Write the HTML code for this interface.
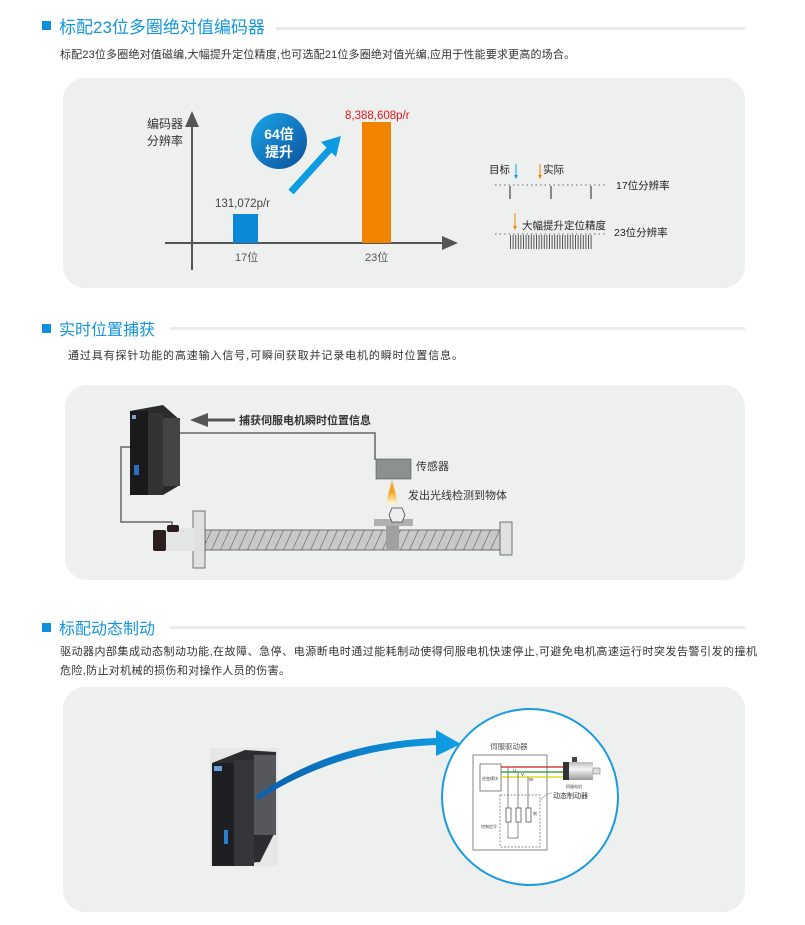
<!DOCTYPE html>
<html><head><meta charset="utf-8"><style>
html,body{margin:0;padding:0;background:#fff;width:805px;height:925px;overflow:hidden}
svg{display:block}
text{font-family:"Liberation Sans","Noto Sans CJK SC",sans-serif}
</style></head><body>
<svg width="805" height="925" viewBox="0 0 805 925" xmlns="http://www.w3.org/2000/svg">
<defs>
<linearGradient id="cg" x1="0" y1="0" x2="1" y2="1"><stop offset="0" stop-color="#1ba6e8"/><stop offset="1" stop-color="#0b4f9c"/></linearGradient>
<linearGradient id="fl" x1="0" y1="1" x2="0" y2="0"><stop offset="0" stop-color="#fff3d0"/><stop offset="0.5" stop-color="#f7a21b"/><stop offset="1" stop-color="#f07d00" stop-opacity="0.6"/></linearGradient>
<linearGradient id="ba" x1="0" y1="0" x2="1" y2="0"><stop offset="0" stop-color="#0b5fae"/><stop offset="1" stop-color="#0da0e6"/></linearGradient>
<linearGradient id="mt" x1="0" y1="0" x2="0" y2="1"><stop offset="0" stop-color="#bbb"/><stop offset="0.4" stop-color="#f6f6f6"/><stop offset="1" stop-color="#999"/></linearGradient>
<pattern id="hatch" width="9" height="20" patternUnits="userSpaceOnUse"><rect width="9" height="20" fill="#c9c9c9"/><line x1="9" y1="0" x2="0" y2="20" stroke="#777" stroke-width="0.8"/></pattern>
</defs>

<!-- Section 1 -->
<rect x="42" y="21" width="9" height="9" fill="#0d8fdb"/>
<text x="59" y="33" font-size="17" fill="#1596dc">标配23位多圈绝对值编码器</text>
<rect x="276" y="27" width="469" height="3" fill="#ebebeb"/>
<text x="60" y="58" font-size="11" fill="#333" textLength="515">标配23位多圈绝对值磁编,大幅提升定位精度,也可选配21位多圈绝对值光编,应用于性能要求更高的场合。</text>
<rect x="63" y="78" width="682" height="210" rx="22" fill="#eef0f0"/>

<text x="147" y="128" font-size="12" fill="#333">编码器</text>
<text x="147" y="145" font-size="12" fill="#333">分辨率</text>
<line x1="192" y1="270" x2="192" y2="125" stroke="#555" stroke-width="2"/>
<polygon points="185,127 192,111 199,127" fill="#555"/>
<line x1="165" y1="243" x2="445" y2="243" stroke="#555" stroke-width="2"/>
<polygon points="442,236 458,243 442,250" fill="#555"/>
<rect x="233" y="214" width="25" height="29" fill="#0a8ad6"/>
<rect x="362" y="122" width="29" height="121" fill="#f08300"/>
<text x="215" y="207" font-size="11.5" fill="#444">131,072p/r</text>
<text x="345" y="119" font-size="11.5" fill="#e8151c">8,388,608p/r</text>
<text x="235" y="261" font-size="11" fill="#555">17位</text>
<text x="365" y="261" font-size="11" fill="#555">23位</text>
<circle cx="279" cy="141" r="28" fill="url(#cg)"/>
<text x="279" y="139" font-size="14" font-weight="bold" fill="#fff" text-anchor="middle">64倍</text>
<text x="279" y="157" font-size="14" font-weight="bold" fill="#fff" text-anchor="middle">提升</text>
<line x1="291" y1="192" x2="330" y2="149" stroke="#0d9be2" stroke-width="7"/>
<polygon points="321,142 341,136 336,157" fill="#0d9be2"/>

<text x="489" y="173" font-size="10.5" fill="#222">目标</text>
<line x1="516" y1="164" x2="516" y2="176" stroke="#1a9be0"/><polygon points="514,175 518,175 516,179" fill="#1a9be0"/>
<line x1="540" y1="164" x2="540" y2="176" stroke="#f08300"/><polygon points="538,175 542,175 540,179" fill="#f08300"/>
<text x="543" y="173" font-size="10.5" fill="#222">实际</text>
<line x1="495" y1="185" x2="605" y2="185" stroke="#666" stroke-dasharray="1.5,3"/>
<line x1="510" y1="186" x2="510" y2="199" stroke="#444" stroke-width="1.2"/>
<line x1="551" y1="186" x2="551" y2="199" stroke="#444" stroke-width="1.2"/>
<line x1="591" y1="186" x2="591" y2="199" stroke="#444" stroke-width="1.2"/>
<text x="616" y="189" font-size="10.5" fill="#222">17位分辨率</text>
<line x1="515" y1="213" x2="515" y2="227" stroke="#f08300"/><polygon points="513,226 517,226 515,230" fill="#f08300"/>
<text x="522" y="229" font-size="10.5" fill="#222">大幅提升定位精度</text>
<line x1="495" y1="234" x2="605" y2="234" stroke="#666" stroke-dasharray="1.5,3"/>
<line x1="510" y1="242" x2="593" y2="242" stroke="#555" stroke-width="14" stroke-dasharray="1,1.6"/>
<text x="614" y="236" font-size="10.5" fill="#222">23位分辨率</text>

<!-- Section 2 -->
<rect x="42" y="324" width="9" height="9" fill="#0d8fdb"/>
<text x="59" y="335" font-size="16" fill="#1596dc">实时位置捕获</text>
<rect x="170" y="327" width="575" height="3" fill="#ebebeb"/>
<text x="68" y="359" font-size="11" fill="#333" textLength="395">通过具有探针功能的高速输入信号,可瞬间获取并记录电机的瞬时位置信息。</text>
<rect x="65" y="385" width="680" height="195" rx="22" fill="#eef0f0"/>

<polyline points="143,433 375,433 375,460" fill="none" stroke="#666" stroke-width="1.5"/>
<polyline points="137,447 121,447 121,522 172,522 172,528" fill="none" stroke="#666" stroke-width="1.5"/>
<!-- drive -->
<polygon points="130,411 163,405 180,420 180,485 163,495 130,495" fill="#2a2a2a"/>
<rect x="130" y="411" width="18" height="84" fill="#1a1a1a"/>
<rect x="148" y="413" width="15" height="82" fill="#333"/>
<rect x="163" y="418" width="17" height="68" fill="#444"/>
<rect x="134" y="465" width="5" height="10" fill="#2a6fbf"/>
<rect x="132" y="415" width="4" height="4" fill="#7aa3d0"/>
<polygon points="190,420 208,413 208,427" fill="#555"/>
<line x1="206" y1="420" x2="235" y2="420" stroke="#555" stroke-width="3"/>
<text x="239" y="424" font-size="11" font-weight="bold" fill="#333">捕获伺服电机瞬时位置信息</text>
<rect x="376" y="459" width="35" height="20" fill="#8b9190" stroke="#555" stroke-width="0.6"/>
<text x="416" y="470" font-size="11" fill="#333">传感器</text>
<polygon points="392,480 386,503 398,503" fill="url(#fl)"/>
<text x="408" y="499" font-size="11" fill="#333">发出光线检测到物体</text>
<!-- screw -->
<rect x="205" y="530" width="296" height="20" fill="url(#hatch)" stroke="#555" stroke-width="0.8"/>
<rect x="193" y="511" width="12" height="57" fill="#e0e0e0" stroke="#555" stroke-width="0.8"/>
<rect x="500" y="522" width="12" height="33" fill="#e0e0e0" stroke="#555" stroke-width="0.8"/>
<rect x="374" y="519" width="39" height="7" fill="#b0b0b0"/>
<rect x="386" y="526" width="13" height="24" fill="#a0a0a0"/>
<polygon points="392,508 402,508 405,515 402,522 392,522 389,515" fill="#eee" stroke="#444" stroke-width="0.8"/>
<rect x="165" y="528" width="30" height="23" fill="#e4e6e6"/>
<rect x="153" y="530" width="13" height="21" rx="2" fill="#2a1e1e"/>
<rect x="167" y="525" width="12" height="7" rx="2" fill="#2a1e1e"/>

<!-- Section 3 -->
<rect x="42" y="623" width="9" height="9" fill="#0d8fdb"/>
<text x="59" y="634" font-size="16" fill="#1596dc">标配动态制动</text>
<rect x="170" y="626" width="575" height="3" fill="#ebebeb"/>
<text x="60" y="655" font-size="11" fill="#333" textLength="697">驱动器内部集成动态制动功能,在故障、急停、电源断电时通过能耗制动使得伺服电机快速停止,可避免电机高速运行时突发告警引发的撞机</text>
<text x="60" y="674" font-size="11" fill="#333" textLength="230">危险,防止对机械的损伤和对操作人员的伤害。</text>
<rect x="63" y="687" width="682" height="225" rx="22" fill="#eef0f0"/>

<!-- drive 2 -->
<rect x="210" y="748" width="68" height="118" fill="#e6e8e8"/>
<polygon points="212,763 245,750 276,752 276,830 260,862 212,866" fill="#2b2d30"/>
<rect x="212" y="763" width="22" height="103" fill="#1d1f22"/>
<rect x="234" y="760" width="20" height="106" fill="#34363a"/>
<rect x="254" y="755" width="22" height="80" fill="#55575a"/>
<rect x="224" y="830" width="4" height="14" fill="#2a7fd0"/>
<rect x="214" y="766" width="8" height="5" fill="#6aa0d8"/>
<path d="M258,800 Q340,748 436,745 L436,756 L461,744 L436,730 L436,738 Q330,742 256,796 Z" fill="url(#ba)"/>
<circle cx="530" cy="797" r="88" fill="#fff" stroke="#1a9be0" stroke-width="2"/>
<text x="490" y="749" font-size="7.5" fill="#555">伺服驱动器</text>
<rect x="473" y="755" width="74" height="95" fill="#fff" stroke="#666" stroke-width="0.8"/>
<rect x="480" y="764" width="21" height="27" fill="#fff" stroke="#666" stroke-width="0.8"/>
<text x="482" y="780" font-size="4" fill="#444">逆变模块</text>
<line x1="501" y1="767" x2="564" y2="767" stroke="#d01c1c" stroke-width="1.2"/>
<line x1="501" y1="772" x2="564" y2="772" stroke="#1a9b2a" stroke-width="1.2"/>
<line x1="501" y1="777" x2="564" y2="777" stroke="#e0d000" stroke-width="1.2"/>
<text x="513" y="772" font-size="4.5" fill="#333">U</text>
<text x="521" y="776" font-size="4.5" fill="#333">V</text>
<text x="529" y="781" font-size="4.5" fill="#333">W</text>
<polyline points="508,767 508,808" fill="none" stroke="#666" stroke-width="0.8"/>
<polyline points="518,772 518,808" fill="none" stroke="#666" stroke-width="0.8"/>
<polyline points="528,777 528,808" fill="none" stroke="#666" stroke-width="0.8"/>
<rect x="500" y="795" width="40" height="52" fill="none" stroke="#666" stroke-width="0.7" stroke-dasharray="2,1.5"/>
<rect x="506" y="808" width="5" height="14" fill="#fff" stroke="#555" stroke-width="0.8"/>
<rect x="516" y="808" width="5" height="14" fill="#fff" stroke="#555" stroke-width="0.8"/>
<rect x="526" y="808" width="5" height="14" fill="#fff" stroke="#555" stroke-width="0.8"/>
<polyline points="508,822 508,838 518,838 518,822 M528,822 528,843 513,843 513,838" fill="none" stroke="#666" stroke-width="0.7"/>
<text x="481" y="828" font-size="4" fill="#444">控制信号</text>
<text x="533" y="815" font-size="4" fill="#444">制</text>
<text x="535" y="800" font-size="4" fill="#444"></text>
<path d="M541,800 Q546,793 552,793" fill="none" stroke="#555" stroke-width="0.6" stroke-dasharray="1.5,1"/>
<text x="553" y="798" font-size="7" fill="#333">动态制动器</text>
<rect x="563" y="762" width="6" height="18" fill="#333"/>
<rect x="569" y="762" width="24" height="18" fill="url(#mt)"/>
<rect x="572" y="757" width="5" height="5" fill="#444"/>
<rect x="593" y="768" width="7" height="6" fill="#ddd" stroke="#666" stroke-width="0.5"/>
<text x="566" y="788" font-size="4" fill="#444">伺服电机</text>
</svg>
</body></html>
